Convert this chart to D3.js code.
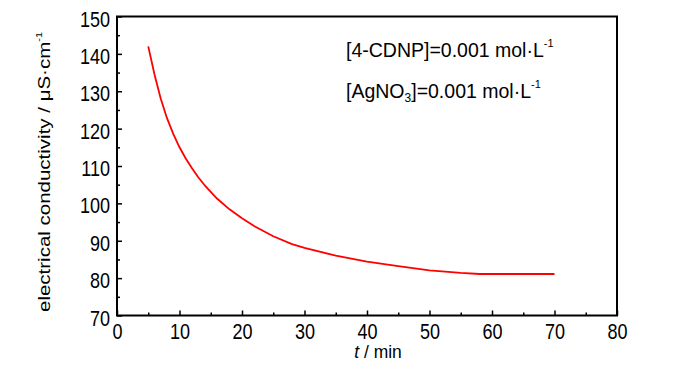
<!DOCTYPE html>
<meta charset="utf-8">
<script src="https://d3js.org/d3.v7.min.js"></script>
<style>
  body { margin: 0; background: #fff; }
  text { font-family: "Liberation Sans", Arial, sans-serif; fill: #000; }
</style>
<div id="page"></div>
<script>

  // data
  var time = [5, 6, 7, 8, 9, 10, 11, 12, 13, 14, 16, 18, 20, 22, 25, 28, 30, 35, 40, 45, 50, 55, 58, 60, 65, 70];
  var cond = [142, 134.5, 128, 122.8, 118.6, 115, 112, 109.4, 107, 104.9, 101.3, 98.4, 96, 93.9, 91.2, 89.1, 88.1, 86, 84.4, 83.2, 82.1, 81.4, 81.1, 81.1, 81.1, 81.1];
  var xTicks = [0, 10, 20, 30, 40, 50, 60, 70, 80];
  var yTicks = [70, 80, 90, 100, 110, 120, 130, 140, 150];

  var width = 700, height = 374;
  var plotL = 117, plotR = 617, plotT = 16.5, plotB = 315.5;

  var svg = d3.select("#page")
    .append("svg")
    .attr("width", width)
    .attr("height", height);

  var x = d3.scaleLinear().domain([0, 80]).range([plotL, plotR]);
  var y = d3.scaleLinear().domain([70, 150]).range([plotB, plotT]);

  var sx = 0.82; // tick labels look tall and narrow

  // minor ticks
  svg.append("g")
    .attr("transform", "translate(0," + plotB + ")")
    .call(d3.axisBottom(x).tickValues(d3.range(5, 80, 10)).tickSize(-3).tickSizeOuter(0).tickFormat(""))
    .call(g => g.select(".domain").remove())
    .selectAll("line").attr("stroke-width", 1.5);
  svg.append("g")
    .attr("transform", "translate(" + plotL + ",0)")
    .call(d3.axisLeft(y).tickValues(d3.range(75, 150, 10)).tickSize(-3).tickSizeOuter(0).tickFormat(""))
    .call(g => g.select(".domain").remove())
    .selectAll("line").attr("stroke-width", 1.5);

  // x axis
  var gx = svg.append("g")
    .attr("transform", "translate(0," + plotB + ")")
    .call(d3.axisBottom(x).tickValues(xTicks).tickSize(-5).tickSizeOuter(0).tickFormat(d3.format("d")));
  gx.select(".domain").remove();
  gx.selectAll("line").attr("stroke-width", 1.5);
  gx.selectAll("text")
    .attr("font-size", 22)
    .attr("font-family", "Liberation Sans, Arial, sans-serif")
    .attr("fill", "#000")
    .attr("y", 23.5)
    .attr("dy", null)
    .attr("transform", "scale(" + sx + ",1)");

  // y axis
  var gy = svg.append("g")
    .attr("transform", "translate(" + plotL + ",0)")
    .call(d3.axisLeft(y).tickValues(yTicks).tickSize(-5).tickSizeOuter(0).tickFormat(d3.format("d")));
  gy.select(".domain").remove();
  gy.selectAll("line").attr("stroke-width", 1.5);
  gy.selectAll("text")
    .attr("font-size", 22)
    .attr("font-family", "Liberation Sans, Arial, sans-serif")
    .attr("fill", "#000")
    .attr("x", -7 / sx)
    .attr("dy", 9.5)
    .attr("transform", "scale(" + sx + ",1)");

  // frame
  svg.append("rect")
    .attr("x", plotL)
    .attr("y", plotT)
    .attr("width", plotR - plotL)
    .attr("height", plotB - plotT)
    .attr("fill", "none")
    .attr("stroke", "#000")
    .attr("stroke-width", 2);

  // curve
  var pts = time.map(function (t, i) { return [t, cond[i]]; });
  svg.append("path")
    .datum(pts)
    .attr("fill", "none")
    .attr("stroke", "#ff0000")
    .attr("stroke-width", 1.8)
    .attr("stroke-linejoin", "round")
    .attr("d", d3.line().x(d => x(d[0])).y(d => y(d[1])));

  // axis titles
  var xt = svg.append("text")
    .attr("transform", "translate(378,358) scale(0.92,1)")
    .attr("text-anchor", "middle")
    .attr("font-size", 19);
  xt.append("tspan").attr("font-style", "italic").text("t");
  xt.append("tspan").text(" / min");

  var yt = svg.append("text")
    .attr("transform", "translate(50,312) rotate(-90) scale(1,0.82)")
    .attr("text-anchor", "start")
    .attr("font-size", 20.5);
  yt.append("tspan").text("electrical conductivity / \u03bcS\u00b7cm");
  yt.append("tspan").attr("font-size", 11).attr("dy", -10).text("-1");

  // annotation
  var a1 = svg.append("text")
    .attr("x", 346)
    .attr("y", 57)
    .attr("font-size", 19.5);
  a1.append("tspan").text("[4-CDNP]=0.001 mol\u00b7L");
  a1.append("tspan").attr("font-size", 11).attr("dy", -10).text("-1");

  var a2 = svg.append("text")
    .attr("x", 346)
    .attr("y", 98)
    .attr("font-size", 19.5);
  a2.append("tspan").text("[AgNO");
  a2.append("tspan").attr("font-size", 12).attr("dy", 4).text("3");
  a2.append("tspan").attr("dy", -4).text("]=0.001 mol\u00b7L");
  a2.append("tspan").attr("font-size", 11).attr("dy", -10).text("-1");

</script>
